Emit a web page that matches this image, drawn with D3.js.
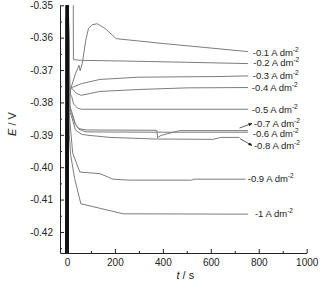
<!DOCTYPE html>
<html>
<head>
<meta charset="utf-8">
<script src="https://cdnjs.cloudflare.com/ajax/libs/d3/7.8.5/d3.min.js"></script>
<style>
    body { margin: 0; background: #fff; }
    text { font-family: Arial, "Liberation Sans", sans-serif; fill: #222; }
</style>
</head>
<body>
<div id="chart"></div>
<script>
//Chronopotentiometry curves - E vs t for each current density

//Series values as [t (s), E (V)]
var c01 = [[0,-0.45],[1,-0.33],[10,-0.380],[16,-0.3757],[35,-0.3712],[45,-0.3695],[50,-0.3685],[55,-0.3702],[64,-0.3679],[78,-0.3610],[90,-0.3571],[105,-0.3560],[127,-0.3557],[160,-0.3572],[205,-0.3603],[400,-0.3618],[600,-0.3632],[755,-0.3643]];
var c02 = [[0,-0.45],[1,-0.34],[26,-0.34],[27,-0.3668],[60,-0.3670],[150,-0.3671],[300,-0.3673],[500,-0.3676],[755,-0.3680]];
var c03 = [[0,-0.45],[1,-0.33],[12,-0.3762],[20,-0.3754],[60,-0.3742],[137,-0.3729],[300,-0.3722],[630,-0.3720],[755,-0.3718]];
var c04 = [[0,-0.45],[1,-0.33],[12,-0.3750],[20,-0.3756],[40,-0.3772],[60,-0.3778],[137,-0.3766],[300,-0.3760],[500,-0.3755],[755,-0.3754]];
var c05 = [[0,-0.45],[1,-0.33],[10,-0.3770],[20,-0.3782],[28,-0.3805],[45,-0.3818],[60,-0.3821],[300,-0.3821],[755,-0.3821]];
var c06 = [[0,-0.45],[1,-0.33],[12,-0.3810],[20,-0.3829],[35,-0.3866],[50,-0.3883],[80,-0.3891],[400,-0.3892],[755,-0.3892]];
var c07 = [[0,-0.45],[1,-0.33],[12,-0.3820],[20,-0.3835],[35,-0.3868],[50,-0.3881],[80,-0.3885],[375,-0.3886],[378,-0.3909],[392,-0.3902],[470,-0.3887],[755,-0.3887]];
var c08 = [[0,-0.45],[1,-0.33],[12,-0.3830],[20,-0.3845],[35,-0.3885],[60,-0.3898],[82,-0.3901],[180,-0.3908],[370,-0.3913],[610,-0.3914],[640,-0.3908],[720,-0.3908]];
var c09 = [[0,-0.45],[1,-0.33],[10,-0.3840],[16,-0.3890],[24,-0.3957],[54,-0.4015],[138,-0.4020],[192,-0.4037],[260,-0.4040],[520,-0.4040],[530,-0.4037],[745,-0.4037]];
var c10 = [[0,-0.45],[1,-0.33],[10,-0.3900],[15,-0.3960],[32,-0.4035],[58,-0.4113],[138,-0.4127],[235,-0.4144],[755,-0.4145]];

var curves = [c01, c02, c03, c04, c05, c06, c07, c08, c09, c10];
var labels = ["-0.1", "-0.2", "-0.3", "-0.4", "-0.5", "-0.6", "-0.7", "-0.8", "-0.9", "-1"];

//Where each label sits, in data units (start t, centre E)
var labelT = [775, 777, 775, 771, 771, 775, 780, 780, 754, 784];
var labelE = [-0.3645, -0.3676, -0.3718, -0.3756, -0.3821, -0.3898, -0.3865, -0.3934, -0.4037, -0.4144];

//Arrows for the two crowded labels: [tailT, tailE, headT, headE]
var arrows = [[720, -0.3879, 772, -0.3865], [722, -0.3912, 772, -0.3933]];

var xTicks = [0, 200, 400, 600, 800, 1000];
var xMinor = [100, 300, 500, 700, 900];
var yTicks = [-0.35, -0.36, -0.37, -0.38, -0.39, -0.40, -0.41, -0.42];
var yMinor = [-0.355, -0.365, -0.375, -0.385, -0.395, -0.405, -0.415, -0.425];

var width = 335, height = 289;
var mLeft = 60, mRight = 306.7, mTop = 5.3, mBottom = 253;

var svg = d3.select("#chart")
    .append("svg")
    .attr("width", width)
    .attr("height", height);

var x = d3.scaleLinear().domain([-29, 1000]).range([mLeft, mRight]);
var y = d3.scaleLinear().domain([-0.4265, -0.35]).range([mBottom, mTop]);

var defs = svg.append("defs");
defs.append("clipPath")
    .attr("id", "plotClip")
    .append("rect")
    .attr("x", mLeft).attr("y", mTop)
    .attr("width", mRight - mLeft).attr("height", mBottom - mTop);

defs.append("marker")
    .attr("id", "head")
    .attr("viewBox", "0 0 10 10")
    .attr("refX", 9).attr("refY", 5)
    .attr("markerWidth", 5).attr("markerHeight", 5)
    .attr("orient", "auto")
    .append("path")
    .attr("d", "M0,1 L10,5 L0,9 z")
    .attr("fill", "#111");

var line = d3.line()
    .x(function (d) { return x(d[0]); })
    .y(function (d) { return y(d[1]); });

var plot = svg.append("g").attr("clip-path", "url(#plotClip)");

//Grey curves
plot.selectAll(".curve")
    .data(curves)
    .enter()
    .append("path")
    .attr("class", "curve")
    .attr("d", line)
    .attr("fill", "none")
    .attr("stroke", "#7c7c7c")
    .attr("stroke-width", 1);

//Initial transient spike drawn dark, it is where all curves overlap
plot.selectAll(".spike")
    .data(curves)
    .enter()
    .append("path")
    .attr("class", "spike")
    .attr("d", function (d) { return line(d.slice(0, 2)); })
    .attr("fill", "none")
    .attr("stroke", "#111")
    .attr("stroke-width", 2.6);

//Axes
svg.append("g")
    .attr("transform", "translate(0," + mBottom + ")")
    .call(d3.axisBottom(x).tickValues(xTicks).tickSizeInner(-4).tickSizeOuter(0).tickPadding(6)
        .tickFormat(d3.format("d")));
svg.append("g")
    .attr("transform", "translate(0," + mBottom + ")")
    .call(d3.axisBottom(x).tickValues(xMinor).tickSizeInner(-2).tickSizeOuter(0).tickFormat(""))
    .select(".domain").remove();

svg.append("g")
    .attr("transform", "translate(" + mLeft + ",0)")
    .call(d3.axisLeft(y).tickValues(yTicks).tickSizeInner(-4).tickSizeOuter(0).tickPadding(7)
        .tickFormat(function (d) { return d.toFixed(2); }));
svg.append("g")
    .attr("transform", "translate(" + mLeft + ",0)")
    .call(d3.axisLeft(y).tickValues(yMinor).tickSizeInner(-2).tickSizeOuter(0).tickFormat(""))
    .select(".domain").remove();

svg.selectAll(".tick text")
    .style("font-size", "10px")
    .style("font-family", "Arial, 'Liberation Sans', sans-serif")
    .attr("fill", "#222");
svg.selectAll(".domain, .tick line").attr("stroke", "#222");

//Axis titles
var yTitle = svg.append("text")
    .attr("transform", "translate(16,124) rotate(-90)")
    .attr("text-anchor", "middle")
    .style("font-size", "11px");
yTitle.append("tspan").style("font-style", "italic").text("E");
yTitle.append("tspan").text(" / V");

var xTitle = svg.append("text")
    .attr("x", (mLeft + mRight) / 2 + 2)
    .attr("y", 279)
    .attr("text-anchor", "middle")
    .style("font-size", "11px");
xTitle.append("tspan").style("font-style", "italic").text("t");
xTitle.append("tspan").text(" / s");

//Curve labels
labels.forEach(function (lab, i) {
    var t = svg.append("text")
        .attr("x", x(labelT[i]))
        .attr("y", y(labelE[i]) + 3.3)
        .style("font-size", "9.5px");
    t.append("tspan").text(lab + " A dm");
    t.append("tspan").attr("dy", -4).style("font-size", "6.5px").text("-2");
});

svg.selectAll(".arrow")
    .data(arrows)
    .enter()
    .append("line")
    .attr("class", "arrow")
    .attr("x1", function (d) { return x(d[0]); })
    .attr("y1", function (d) { return y(d[1]); })
    .attr("x2", function (d) { return x(d[2]); })
    .attr("y2", function (d) { return y(d[3]); })
    .attr("stroke", "#333")
    .attr("stroke-width", 0.8)
    .attr("marker-end", "url(#head)");
</script>
</body>
</html>
